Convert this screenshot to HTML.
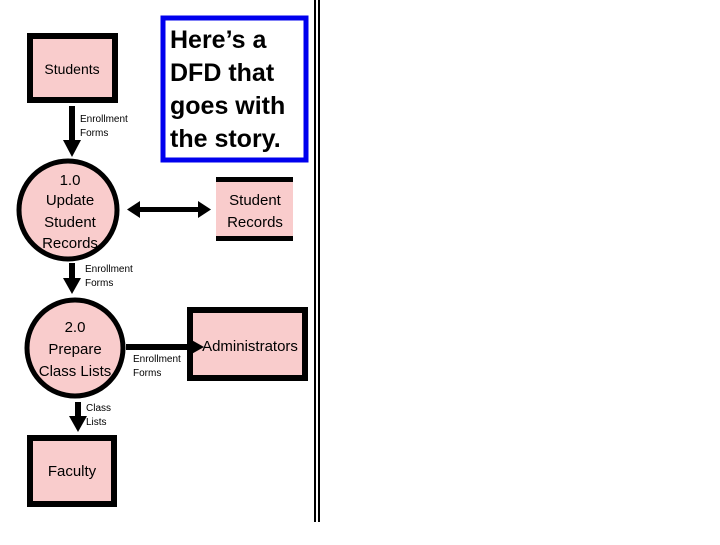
<!DOCTYPE html>
<html><head><style>
body{margin:0;width:720px;height:540px;background:#fff;overflow:hidden;font-family:"Liberation Sans",sans-serif}
</style></head><body>
<svg width="720" height="540" xmlns="http://www.w3.org/2000/svg" font-family="Liberation Sans, sans-serif">
<defs><marker id="a" markerWidth="4" markerHeight="4" refX="2" refY="2" orient="auto" markerUnits="strokeWidth"></marker></defs>
<!-- Students -->
<rect x="30" y="36" width="85" height="64" fill="#f9cccc" stroke="#000" stroke-width="6"/>
<text x="72" y="74" font-size="14" text-anchor="middle">Students</text>
<!-- arrow students->1.0 -->
<rect x="69" y="106" width="6" height="36" fill="#000"/>
<polygon points="63,140 81,140 72,157" fill="#000"/>
<text x="80" y="122" font-size="10">Enrollment</text>
<text x="80" y="136" font-size="10">Forms</text>
<!-- blue box -->
<rect x="163" y="18" width="143" height="142" fill="#fff" stroke="#0000ee" stroke-width="5"/>
<g font-size="25" font-weight="bold">
<text x="170" y="48">Here’s a</text>
<text x="170" y="81">DFD that</text>
<text x="170" y="114">goes with</text>
<text x="170" y="147">the story.</text>
</g>
<!-- circle 1 -->
<circle cx="68" cy="210" r="49" fill="#f9cccc" stroke="#000" stroke-width="5"/>
<g font-size="15" text-anchor="middle">
<text x="70" y="185">1.0</text>
<text x="70" y="205">Update</text>
<text x="70" y="227">Student</text>
<text x="70" y="248">Records</text>
</g>
<!-- double arrow -->
<rect x="138" y="207" width="62" height="5" fill="#000"/>
<polygon points="127,209.5 140,201 140,218" fill="#000"/>
<polygon points="211,209.5 198,201 198,218" fill="#000"/>
<!-- Student Records store -->
<rect x="216" y="180" width="77" height="58" fill="#f9cccc"/>
<rect x="216" y="177" width="77" height="5" fill="#000"/>
<rect x="216" y="236" width="77" height="5" fill="#000"/>
<text x="255" y="205" font-size="15" text-anchor="middle">Student</text>
<text x="255" y="227" font-size="15" text-anchor="middle">Records</text>
<!-- arrow 1->2 -->
<rect x="69" y="263" width="6" height="16" fill="#000"/>
<polygon points="63,278 81,278 72,294" fill="#000"/>
<text x="85" y="272" font-size="10">Enrollment</text>
<text x="85" y="286" font-size="10">Forms</text>
<!-- circle 2 -->
<circle cx="75" cy="348" r="48" fill="#f9cccc" stroke="#000" stroke-width="5"/>
<g font-size="15" text-anchor="middle">
<text x="75" y="332">2.0</text>
<text x="75" y="354">Prepare</text>
<text x="75" y="376">Class Lists</text>
</g>
<!-- arrow to admin -->
<rect x="190" y="310" width="115" height="68" fill="#f9cccc" stroke="#000" stroke-width="6"/>
<rect x="126" y="344" width="64" height="6" fill="#000"/>
<polygon points="188,338 188,356 204,347" fill="#000"/>
<text x="133" y="362" font-size="10">Enrollment</text>
<text x="133" y="376" font-size="10">Forms</text>
<text x="250" y="351" font-size="15" text-anchor="middle">Administrators</text>
<!-- class lists arrow -->
<rect x="75" y="402" width="6" height="16" fill="#000"/>
<polygon points="69,416 87,416 78,432" fill="#000"/>
<text x="86" y="411" font-size="10">Class</text>
<text x="86" y="425" font-size="10">Lists</text>
<!-- Faculty -->
<rect x="30" y="438" width="84" height="66" fill="#f9cccc" stroke="#000" stroke-width="6"/>
<text x="72" y="476" font-size="15" text-anchor="middle">Faculty</text>
<!-- vertical double line -->
<rect x="314" y="0" width="2" height="522" fill="#000"/>
<rect x="318" y="0" width="2" height="522" fill="#000"/>
</svg>
</body></html>
